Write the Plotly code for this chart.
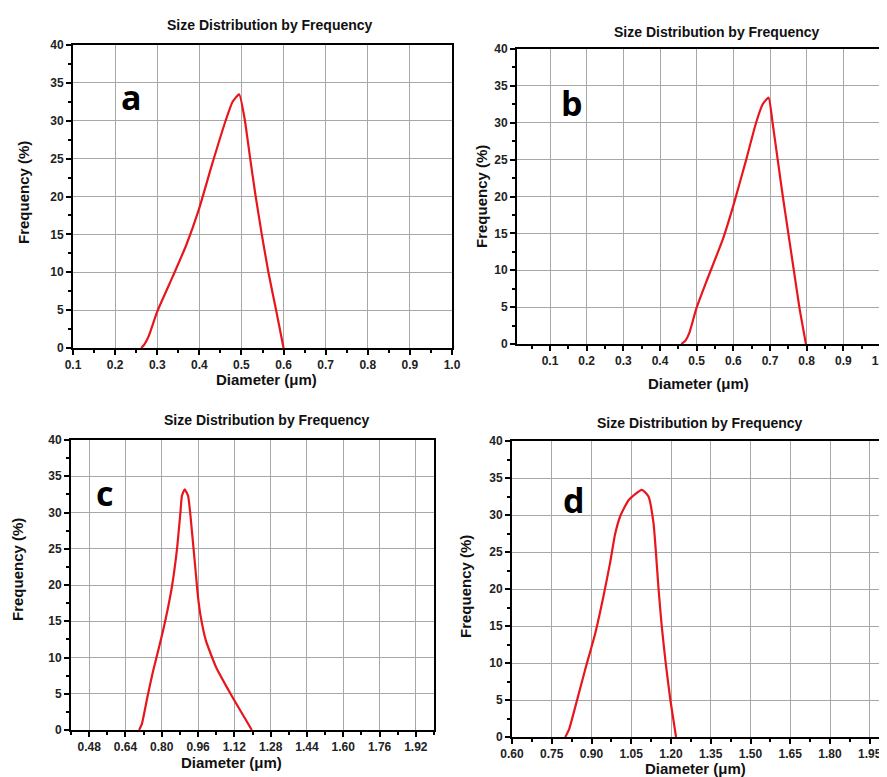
import plotly.graph_objects as go

OFF = 8  # default page body margin
W, H = 887 - OFF, 777 - OFF

# Panel a
a_x = [0.262, 0.270, 0.280, 0.300, 0.337, 0.369, 0.399, 0.430, 0.463, 0.479, 0.4945, 0.508, 0.520, 0.533, 0.548, 0.564, 0.582, 0.600]
a_y = [0.0, 0.5, 1.6, 4.8, 9.45, 13.6, 18.3, 24.2, 30.1, 32.5, 33.5, 30.1, 25.3, 20.3, 15.1, 10.0, 5.07, 0.0]
# Panel b
b_x = [0.458, 0.470, 0.480, 0.499, 0.526, 0.572, 0.599, 0.616, 0.634, 0.662, 0.680, 0.696, 0.707, 0.721, 0.735, 0.750, 0.765, 0.780, 0.798]
b_y = [0.0, 0.5, 1.5, 4.8, 8.4, 14.3, 18.6, 21.6, 24.8, 30.0, 32.5, 33.4, 30.0, 25.0, 20.0, 15.0, 10.0, 5.0, 0.0]
# Panel c
c_x = [0.700, 0.712, 0.737, 0.760, 0.788, 0.815, 0.845, 0.867, 0.882, 0.889, 0.901, 0.916, 0.934, 0.949, 0.960, 0.972, 0.994, 1.039, 1.105, 1.145, 1.197]
c_y = [0.0, 0.8, 4.6, 7.9, 11.4, 15.0, 19.8, 24.9, 29.9, 32.3, 33.2, 32.3, 27.1, 22.0, 18.3, 15.6, 12.4, 8.7, 4.9, 2.75, 0.0]
# Panel d
d_x = [0.801, 0.815, 0.839, 0.876, 0.914, 0.945, 0.970, 0.989, 1.008, 1.040, 1.090, 1.115, 1.134, 1.143, 1.153, 1.165, 1.180, 1.198, 1.219]
d_y = [0.0, 1.0, 4.1, 9.1, 14.0, 19.0, 23.5, 27.4, 29.8, 32.0, 33.4, 32.5, 28.9, 25.0, 20.0, 15.0, 10.0, 4.9, 0.0]

panel_labels = ["a", "b", "c", "d"]
title_text = "Size Distribution by Frequency"
xtitle = "Diameter (μm)"
ytitle = "Frequency (%)"

FONT = "Liberation Sans, Arial, sans-serif"

# layout in pixels (reference image coords): (left, right, top, bottom)
boxes = [(73, 452, 45, 348), (517, 880, 49, 344), (71, 434, 440, 730), (512, 883, 441, 737)]
xranges = [[0.1, 1.0], [0.01, 1.0], [0.4, 2.0], [0.6, 2.0]]
xtick0 = [0.1, 0.1, 0.48, 0.6]
xdtick = [0.1, 0.1, 0.16, 0.15]
xfmt = [".1f", ".1f", ".2f", ".2f"]
title_pos = [(270, 25), (717, 32), (267, 420), (700, 423)]
letter_pos = [(131, 97), (572, 103), (104, 493), (574, 500)]
ytitle_pos = [(23, 193), (482, 197), (17, 570), (465, 587)]
xtitle_pos = [(266, 379), (698, 383), (232, 762), (695, 768)]

def px(x):
    return (x - OFF) / W

def py(y):
    return 1 - (y - OFF) / H

fig = go.Figure()
series = [(a_x, a_y), (b_x, b_y), (c_x, c_y), (d_x, d_y)]
annotations = []
for i, (xs, ys) in enumerate(series):
    n = "" if i == 0 else str(i + 1)
    fig.add_trace(go.Scatter(x=xs, y=ys, mode="lines", line=dict(color="#e8161c", width=2.2, shape="spline", smoothing=0.5),
                             xaxis="x" + n, yaxis="y" + n, showlegend=False, hoverinfo="skip", cliponaxis=True))
    l, r, t, b = boxes[i]
    axis_common = dict(showline=True, linecolor="black", linewidth=2, mirror=True, automargin=False,
                       ticks="outside", ticklen=5, tickwidth=1.5, tickcolor="black",
                       showgrid=True, gridcolor="#a8a8a8", gridwidth=1, zeroline=False,
                       ticklabeloverflow="allow",
                       tickfont=dict(family=FONT, size=12, color="#222", weight="bold"))
    fig.update_layout(**{
        "xaxis" + n: dict(axis_common, domain=[px(l), min(1.0, px(r))], range=xranges[i], tick0=xtick0[i], dtick=xdtick[i],
                          tickformat=xfmt[i], anchor="y" + n, ticklabelstandoff=0,
                          minor=dict(ticks="outside", ticklen=3, tickwidth=1.5, tickcolor="black", dtick=xdtick[i] / 2, showgrid=False)),
        "yaxis" + n: dict(axis_common, domain=[max(0.0, py(b)), py(t)], range=[0, 40], tick0=0, dtick=5, anchor="x" + n,
                          minor=dict(ticks="outside", ticklen=3, tickwidth=1.5, tickcolor="black", dtick=2.5, showgrid=False)),
    })
    annotations.append(dict(text="<b>" + title_text + "</b>", x=px(title_pos[i][0]), y=py(title_pos[i][1]),
                            xref="paper", yref="paper", showarrow=False, xanchor="center", yanchor="middle",
                            font=dict(family=FONT, size=14, color="#111")))
    annotations.append(dict(text="<b>" + panel_labels[i] + "</b>", x=px(letter_pos[i][0]), y=py(letter_pos[i][1]),
                            xref="paper", yref="paper", showarrow=False, xanchor="center", yanchor="middle",
                            font=dict(family="Open Sans, DejaVu Sans, sans-serif", size=34, color="#000")))
    annotations.append(dict(text="<b>" + ytitle + "</b>", x=px(ytitle_pos[i][0]), y=py(ytitle_pos[i][1]),
                            xref="paper", yref="paper", showarrow=False, xanchor="center", yanchor="middle", textangle=-90,
                            font=dict(family=FONT, size=15, color="#111")))
    annotations.append(dict(text="<b>" + xtitle + "</b>", x=px(xtitle_pos[i][0]), y=py(xtitle_pos[i][1]),
                            xref="paper", yref="paper", showarrow=False, xanchor="center", yanchor="middle",
                            font=dict(family=FONT, size=15, color="#111")))

fig.update_layout(width=W, height=H, margin=dict(l=0, r=0, t=0, b=0),
                  paper_bgcolor="white", plot_bgcolor="white", annotations=annotations)

fig.write_html("out.html")
